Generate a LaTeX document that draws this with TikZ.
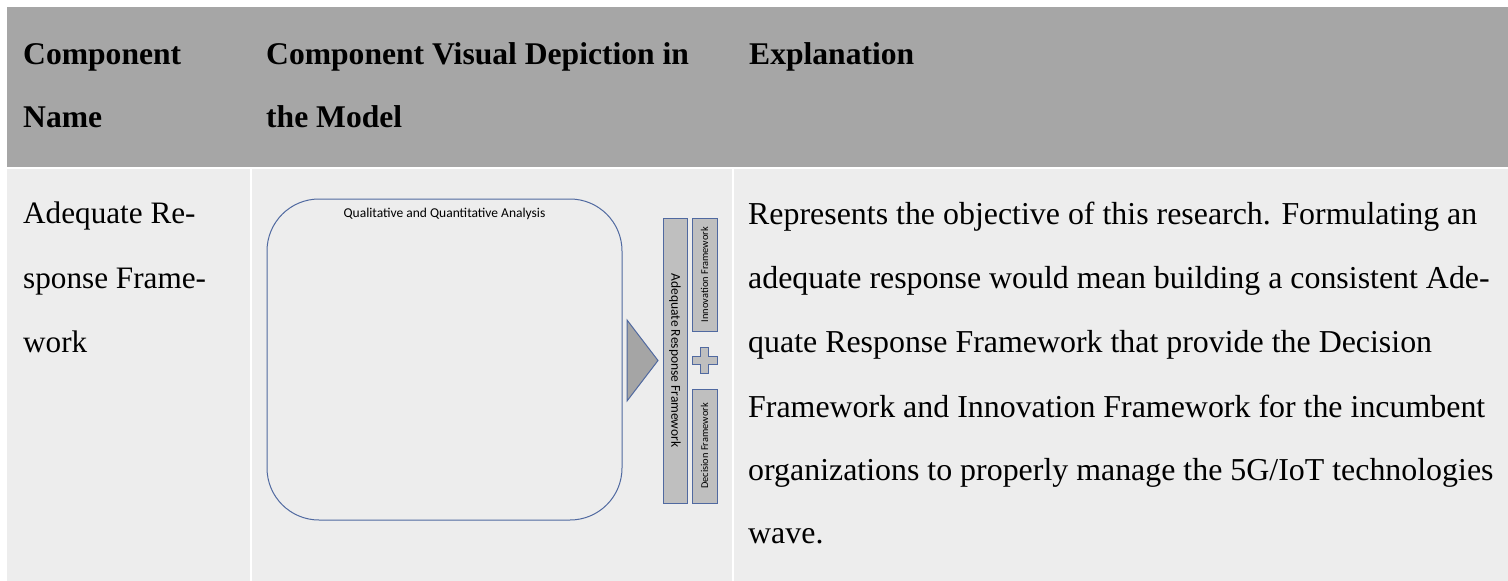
\documentclass[tikz,border=0pt]{standalone}
\usepackage{fontspec}
\setmainfont{Liberation Serif}
\newfontfamily\diagfont{Carlito}
\definecolor{hdrgray}{HTML}{A6A6A6}
\definecolor{cellgray}{HTML}{EDEDED}
\definecolor{barfill}{HTML}{BFBFBF}
\definecolor{trifill}{HTML}{A5A5A5}
\definecolor{edgeblue}{HTML}{5069A0}
\tikzset{
  hdrtext/.style={anchor=base west, inner sep=0pt, font=\fontsize{31.6}{31.6}\selectfont\bfseries},
  celltext/.style={anchor=base west, inner sep=0pt, font=\fontsize{31.2}{31.2}\selectfont},
  expltext/.style={anchor=base west, inner sep=0pt, font=\fontsize{31.9}{31.9}\selectfont},
  barbox/.style={draw=edgeblue, line width=1pt, fill=barfill},
  bartext/.style={inner sep=0pt, font=\diagfont\fontsize{10.4}{10.4}\selectfont},
}
\begin{document}
\begin{tikzpicture}[x=1pt,y=-1pt]
\useasboundingbox (0,0) rectangle (1508,581);
\fill[white] (0,0) rectangle (1508,581);

% table header and body cells
\fill[hdrgray] (7,7) rectangle (1508,167);
\fill[cellgray] (7,169) rectangle (250,581);
\fill[cellgray] (252,169) rectangle (732,581);
\fill[cellgray] (734,169) rectangle (1508,581);

% header labels
\node[hdrtext] (h1a) at (23,64) {Component};
\node[hdrtext] (h1b) at (23,127) {Name};
\node[hdrtext] (h2a) at (266,64) {Component Visual Depiction in};
\node[hdrtext] (h2b) at (266,127) {the Model};
\node[hdrtext] (h3a) at (749,64) {Explanation};

% component name
\node[celltext] (n1) at (23,223) {Adequate Re-};
\node[celltext] (n2) at (23,288) {sponse Frame-};
\node[celltext] (n3) at (23,352) {work};

% explanation
\node[expltext] (e1) at (748,224) {Represents the objective of this research. Formulating an};
\node[expltext] (e2) at (748,288) {adequate response would mean building a consistent Ade-};
\node[expltext] (e3) at (748,352) {quate Response Framework that provide the Decision};
\node[expltext] (e4) at (748,417) {Framework and Innovation Framework for the incumbent};
\node[expltext] (e5) at (748,480) {organizations to properly manage the 5G/IoT technologies};
\node[expltext] (e6) at (748,543) {wave.};

% visual depiction of the model
\draw[edgeblue, line width=1pt, rounded corners=52pt] (267,199) rectangle (622,520);
\node[anchor=base, inner sep=0pt, font=\diagfont\fontsize{13.5}{13.5}\selectfont] (qa) at (444.5,217) {Qualitative and Quantitative Analysis};

\draw[edgeblue, line width=1pt, fill=trifill] (627,320) -- (658,360.5) -- (627,401) -- cycle;

\draw[barbox] (663,218) rectangle (687,503);
\node[inner sep=0pt, rotate=-90, font=\diagfont\fontsize{13.5}{13.5}\selectfont] (arf) at (675,360.5) {Adequate Response Framework};

\draw[barbox] (692,218) rectangle (717,331);
\node[bartext, rotate=90] (inno) at (704.5,274.5) {Innovation Framework};

\draw[barbox] (692,389) rectangle (717,503);
\node[bartext, rotate=90] (dec) at (704.5,446) {Decision Framework};

% plus sign between the two frameworks
\draw[barbox] (700.2,347) -- (708.8,347) -- (708.8,356) -- (717,356) -- (717,364.5)
  -- (708.8,364.5) -- (708.8,373) -- (700.2,373) -- (700.2,364.5) -- (692,364.5)
  -- (692,356) -- (700.2,356) -- cycle;
\end{tikzpicture}
\end{document}
